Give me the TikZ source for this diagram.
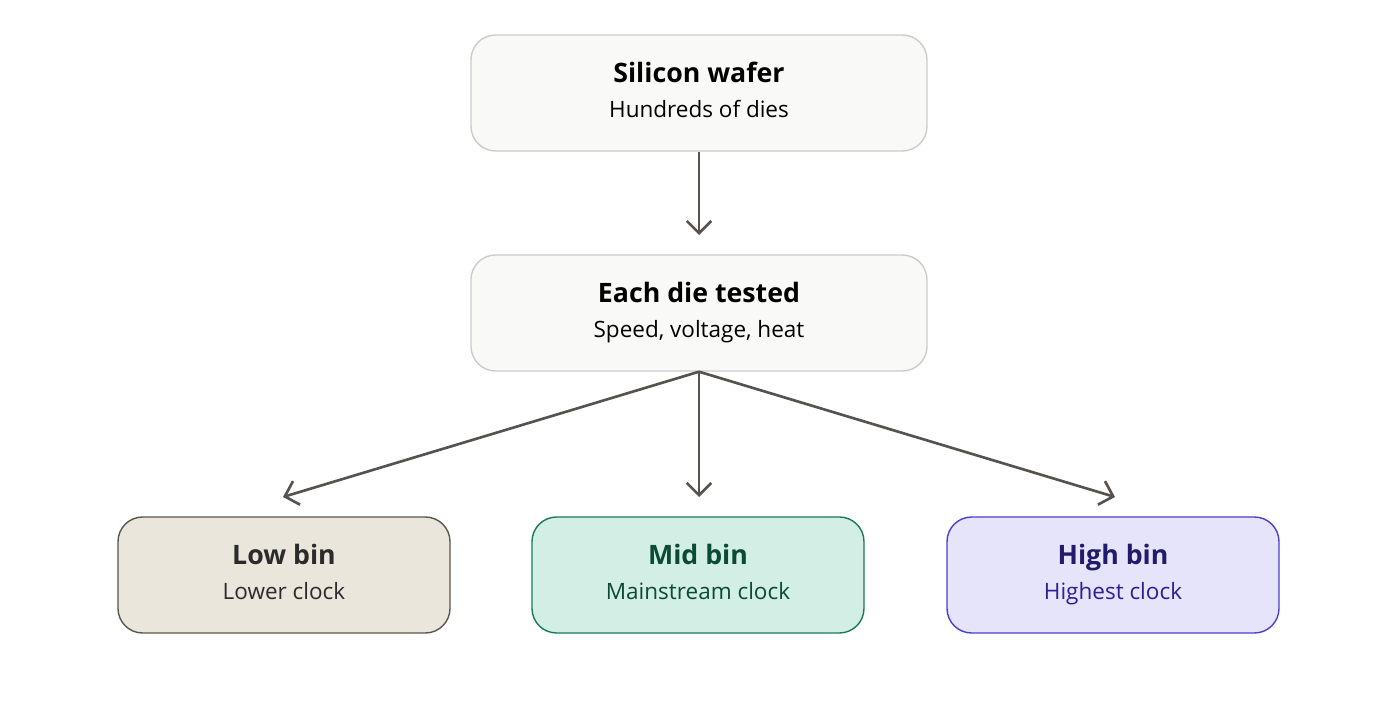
\documentclass[tikz,border=0pt]{standalone}
\usepackage{fontspec}
\setmainfont{Open Sans}
\usetikzlibrary{arrows.meta}
\definecolor{arr}{HTML}{57524D}
\newcommand\ttlf{\fontsize{7.6}{9}\selectfont\bfseries}
\newcommand\subf{\fontsize{6.4}{8}\selectfont}
\newcommand\twolines[2]{{\ttlf\strut #1}\\[-2pt]{\subf\strut #2}}
\begin{document}
\begin{tikzpicture}[x=0.01cm,y=-0.01cm,
 box/.style={draw=#1, rounded corners=7pt, line width=0.4pt, minimum width=332*0.01cm, minimum height=116*0.01cm, align=center, inner sep=0pt},
 wide/.style={box=#1, minimum width=456*0.01cm},
 conn/.style={draw=arr, line width=0.75pt, -{Straight Barb[length=3.5pt,width=7pt,line width=0.75pt]}}]
\path[use as bounding box] (0,0) rectangle (1396,709);
\node[wide=black!20, fill={rgb,255:red,249;green,249;blue,247}] (w) at (699,93)
  {\twolines{Silicon wafer}{Hundreds of dies}};
\node[wide=black!20, fill={rgb,255:red,249;green,249;blue,247}] (t) at (699,313)
  {\twolines{Each die tested}{Speed, voltage, heat}};
\definecolor{lowf}{HTML}{EAE6DC}\definecolor{lowd}{HTML}{5A5650}\definecolor{lowt}{HTML}{2B2B2B}
\definecolor{midf}{HTML}{D3EEE4}\definecolor{midd}{HTML}{1A7A5A}\definecolor{midt}{HTML}{0B4A35}
\definecolor{hif}{HTML}{E5E4FA}\definecolor{hid}{HTML}{4A3FCF}\definecolor{hit}{HTML}{2B1F9A}\definecolor{hitt}{HTML}{221A6A}
\node[box=lowd, fill=lowf, text=lowt] (l) at (284,575)
  {\twolines{Low bin}{Lower clock}};
\node[box=midd, fill=midf, text=midt] (m) at (698,575)
  {\twolines{Mid bin}{Mainstream clock}};
\node[box=hid, fill=hif] (h) at (1113,575)
  {\twolines{\color{hitt}High bin}{\color{hit}Highest clock}};
\coordinate (le) at (283,497);
\coordinate (me) at (699,497);
\coordinate (he) at (1115,497);
\coordinate (we) at (699,235);
\draw[conn] (w.south) -- (we);
\draw[conn] (t.south) -- (le);
\draw[conn] (t.south) -- (me);
\draw[conn] (t.south) -- (he);
\end{tikzpicture}
\end{document}
